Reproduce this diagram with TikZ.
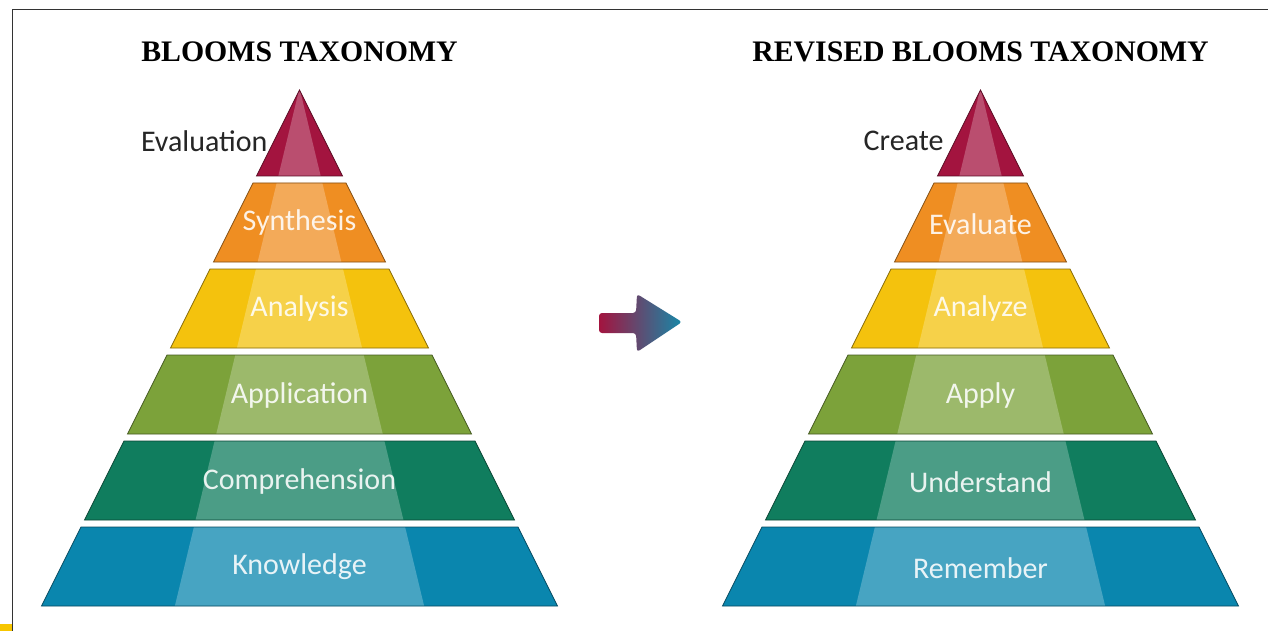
\documentclass[tikz,border=0pt]{standalone}
\usepackage{fontspec}
\setmainfont{Liberation Serif}
\newfontfamily\labfont{Carlito}
\definecolor{cRed}{HTML}{A3143F}
\definecolor{cOrg}{HTML}{EF8E22}
\definecolor{cYel}{HTML}{F4C20D}
\definecolor{cOli}{HTML}{7CA23A}
\definecolor{cGrn}{HTML}{107D5E}
\definecolor{cBlu}{HTML}{0A86AE}
\definecolor{cTeal}{HTML}{1688A8}
\definecolor{cFrame}{HTML}{333333}
\definecolor{cMark}{HTML}{F7C600}
\tikzset{
  title/.style={font=\fontsize{29.8}{32}\selectfont\bfseries, text=black},
  tierlabel/.style={font=\labfont\fontsize{30}{32}\selectfont, text=white, text opacity=0.88},
  sidelabel/.style={font=\labfont\fontsize{30}{32}\selectfont, text=black!85, anchor=east},
}
% #1 centre x, #2 top y, #3 bottom y, #4 colour
\newcommand\bltier[4]{%
  \pgfmathsetmacro\tla{#1-0.5*(#2-90)}%
  \pgfmathsetmacro\tra{#1+0.5*(#2-90)}%
  \pgfmathsetmacro\bla{#1-0.5*(#3-90)}%
  \pgfmathsetmacro\bra{#1+0.5*(#3-90)}%
  \begin{scope}
    \clip (\tla,#2) -- (\tra,#2) -- (\bra,#3) -- (\bla,#3) -- cycle;
    \fill[#4] (\bla-5,#2-5) rectangle (\bra+5,#3+5);
    \fill[white, opacity=0.25] (#1,88) -- (#1-128,620) -- (#1+128,620) -- cycle;
  \end{scope}
  \draw[#4!55!black, line width=0.7, line join=miter] (\tla,#2) -- (\tra,#2) -- (\bra,#3) -- (\bla,#3) -- cycle;
}
\begin{document}
\begin{tikzpicture}[x=1pt, y=-1pt]
\useasboundingbox (0,0) rectangle (1268,631);
\fill[white] (0,0) rectangle (1268,631);
% frame
\draw[cFrame, line width=1.3] (12.5,631) -- (12.5,9.5) -- (1268,9.5);
\fill[cMark] (0,624) rectangle (11.5,631);

% titles
\node[title] (t1) at (299.5,52) {BLOOMS TAXONOMY};
\node[title] (t2) at (980.5,52) {REVISED BLOOMS TAXONOMY};

% left pyramid
\bltier{299.5}{90}{176}{cRed}
\bltier{299.5}{183}{262}{cOrg}
\bltier{299.5}{269}{348}{cYel}
\bltier{299.5}{355}{434}{cOli}
\bltier{299.5}{441}{520}{cGrn}
\bltier{299.5}{527}{606}{cBlu}
\node[sidelabel] (l1) at (271,141) {Evaluation};
\node[tierlabel] (l2) at (299.5,223) {Synthesis};
\node[tierlabel] (l3) at (299.5,309) {Analysis};
\node[tierlabel] (l4) at (299.5,395) {Application};
\node[tierlabel] (l5) at (299.5,481) {Comprehension};
\node[tierlabel] (l6) at (299.5,567) {Knowledge};

% right pyramid
\bltier{980.5}{90}{176}{cRed}
\bltier{980.5}{183}{262}{cOrg}
\bltier{980.5}{269}{348}{cYel}
\bltier{980.5}{355}{434}{cOli}
\bltier{980.5}{441}{520}{cGrn}
\bltier{980.5}{527}{606}{cBlu}
\node[sidelabel] (r1) at (947,141) {Create};
\node[tierlabel] (r2) at (980.5,224) {Evaluate};
\node[tierlabel] (r3) at (980.5,309) {Analyze};
\node[tierlabel] (r4) at (980.5,395) {Apply};
\node[tierlabel] (r5) at (980.5,482) {Understand};
\node[tierlabel] (r6) at (980.5,568) {Remember};

% arrow
\shade[left color=cRed, right color=cTeal, rounded corners=3]
  (599,313) -- (636,313) -- (637,294) -- (682,322) -- (637,352) -- (636,333) -- (599,333) -- cycle;
\end{tikzpicture}
\end{document}
